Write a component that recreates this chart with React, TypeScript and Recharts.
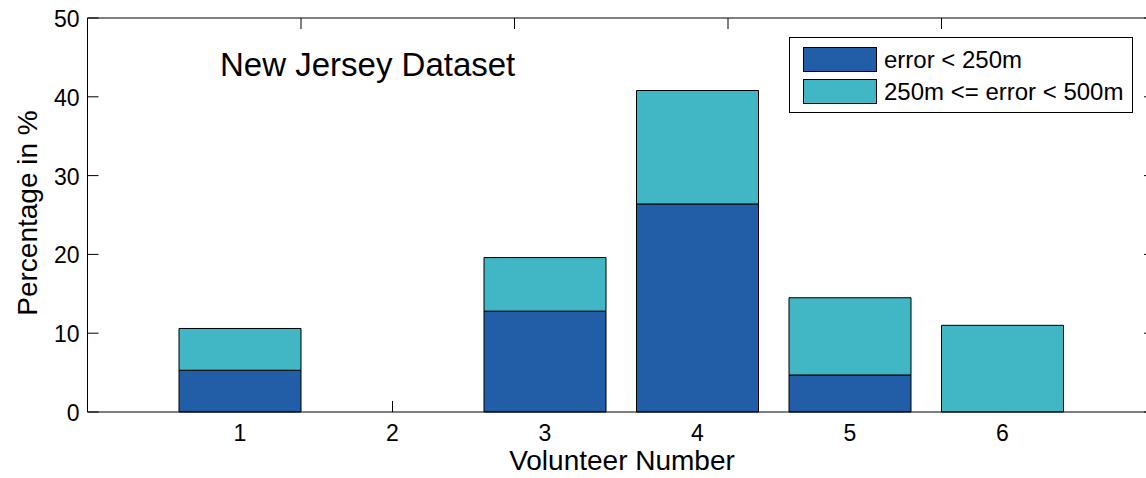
import React from 'react';
import { BarChart, Bar, XAxis, YAxis, Legend } from 'recharts';

const categories = ['1', '2', '3', '4', '5', '6'];
const under250 = [5.3, 0, 12.8, 26.4, 4.7, 0];
const between250and500 = [5.3, 0, 6.8, 14.4, 9.8, 11.0];
const yTicks = [0, 10, 20, 30, 40, 50];
const topTicks = categories.map((c) => Number(c));

const seriesKeys = ['under', 'between'];
const seriesNames = ['error < 250m', '250m <= error < 500m'];
const colors = ['#225EA8', '#41B6C4'];

const data = categories.map((name, i) => ({
  name,
  under: under250[i],
  between: between250and500[i],
}));

const FONT = '"Liberation Sans", Arial, Helvetica, sans-serif';
const TICK = 11;

const CHART_W = 1180;
const CHART_H = 478;
const LEFT_W = 87.5;
const MARGIN_R = 24;
const RIGHT_W = 1;
const PLOT_W = CHART_W - LEFT_W - MARGIN_R - RIGHT_W;
const PAD = PLOT_W / 7 / 2;

const BottomTick = (props: any) => {
  const { x, y, payload } = props;
  const i = categories.indexOf(String(payload.value));
  // axes sit beneath the bars (as in the original): the inner tick is only visible where no bar stands
  const covered = i >= 0 && under250[i] + between250and500[i] > 0;
  return (
    <g>
      {!covered && <line x1={x} x2={x} y1={y} y2={y - TICK} stroke="#000" strokeWidth={1} />}
      <text x={x} y={y + 29} textAnchor="middle" fontSize={23} fill="#000" fontFamily={FONT}>
        {payload.value}
      </text>
    </g>
  );
};

const TopTick = (props: any) => {
  const { x, y } = props;
  return <line x1={x} x2={x} y1={y} y2={y + TICK} stroke="#000" strokeWidth={1} />;
};

const LeftTick = (props: any) => {
  const { x, y, payload } = props;
  return (
    <g>
      <line x1={x} x2={x + TICK} y1={y} y2={y} stroke="#000" strokeWidth={1} />
      <text x={x - 8} y={y + 9} textAnchor="end" fontSize={23} fill="#000" fontFamily={FONT}>
        {payload.value}
      </text>
    </g>
  );
};

const RightTick = (props: any) => {
  const { x, y } = props;
  return <line x1={x} x2={x - TICK} y1={y} y2={y} stroke="#000" strokeWidth={1} />;
};

const LegendBox = (props: any) => {
  const payload = [...(props.payload || [])].sort(
    (a: any, b: any) => seriesKeys.indexOf(a.dataKey) - seriesKeys.indexOf(b.dataKey)
  );
  return (
    <div
      style={{
        position: 'relative',
        width: 344,
        height: 76,
        border: '1px solid #000',
        boxSizing: 'border-box',
        background: '#fff',
        fontFamily: FONT,
      }}
    >
      {payload.map((entry: any, i: number) => (
        <div key={i} style={{ position: 'absolute', left: 13, top: 9 + 32 * i, height: 25, whiteSpace: 'nowrap' }}>
          <div
            style={{
              position: 'absolute',
              left: 0,
              top: 0,
              width: 74,
              height: 25,
              background: entry.color,
              border: '1px solid #000',
              boxSizing: 'border-box',
            }}
          />
          <span
            style={{
              position: 'absolute',
              left: 81,
              top: 0,
              lineHeight: '25px',
              fontSize: 24,
              color: '#000',
            }}
          >
            {entry.value}
          </span>
        </div>
      ))}
    </div>
  );
};

export default function App() {
  return (
    <div
      style={{
        position: 'absolute',
        left: 0,
        top: 0,
        width: 1146,
        height: 478,
        overflow: 'hidden',
        background: '#fff',
      }}
    >
      <BarChart
        width={CHART_W}
        height={CHART_H}
        data={data}
        margin={{ top: 17, right: MARGIN_R, bottom: 0, left: 0 }}
        barCategoryGap="10%"
        style={{ fontFamily: FONT }}
      >
        <XAxis
          dataKey="name"
          height={66}
          padding={{ left: PAD, right: PAD }}
          axisLine={{ stroke: '#000', strokeWidth: 1 }}
          tickLine={false}
          tickSize={0}
          tickMargin={0}
          tick={<BottomTick />}
          interval={0}
          label={(p: any) => (
            <text x={622} y={470} textAnchor="middle" fontSize={28} fill="#000" fontFamily={FONT}>
              Volunteer Number
            </text>
          )}
        />
        <XAxis
          xAxisId="top"
          type="number"
          orientation="top"
          domain={[0, categories.length + 1]}
          ticks={topTicks}
          allowDataOverflow
          height={1}
          axisLine={{ stroke: '#000', strokeWidth: 1 }}
          tickLine={false}
          tickSize={0}
          tickMargin={0}
          tick={<TopTick />}
          interval={0}
          label={(p: any) => (
            <text x={220} y={76} textAnchor="start" fontSize={33} fill="#000" fontFamily={FONT}>
              New Jersey Dataset
            </text>
          )}
        />
        <YAxis
          domain={[0, 50]}
          ticks={yTicks}
          width={LEFT_W}
          axisLine={{ stroke: '#000', strokeWidth: 1 }}
          tickLine={false}
          tickSize={0}
          tickMargin={0}
          tick={<LeftTick />}
          interval={0}
          label={(p: any) => {
            const vb = p.viewBox || { y: 18, height: 394 };
            const cy = vb.y + vb.height / 2 - 2;
            return (
              <text
                x={37}
                y={cy}
                transform={`rotate(-90 37 ${cy})`}
                textAnchor="middle"
                fontSize={28}
                fill="#000"
                fontFamily={FONT}
              >
                Percentage in %
              </text>
            );
          }}
        />
        <YAxis
          yAxisId="right"
          orientation="right"
          type="number"
          domain={[0, 50]}
          ticks={yTicks}
          allowDataOverflow
          width={RIGHT_W}
          axisLine={{ stroke: '#000', strokeWidth: 1 }}
          tickLine={false}
          tickSize={0}
          tickMargin={0}
          tick={<RightTick />}
          interval={0}
        />
        <Legend
          layout="vertical"
          align="center"
          verticalAlign="middle"
          content={<LegendBox />}
          wrapperStyle={{ position: 'absolute', left: 789, top: 37, width: 344, height: 76 }}
        />
        <Bar
          dataKey="under"
          name={seriesNames[0]}
          stackId="a"
          fill={colors[0]}
          stroke="#000"
          strokeWidth={1}
          isAnimationActive={false}
        />
        <Bar
          dataKey="between"
          name={seriesNames[1]}
          stackId="a"
          fill={colors[1]}
          stroke="#000"
          strokeWidth={1}
          isAnimationActive={false}
        />
      </BarChart>
    </div>
  );
}
